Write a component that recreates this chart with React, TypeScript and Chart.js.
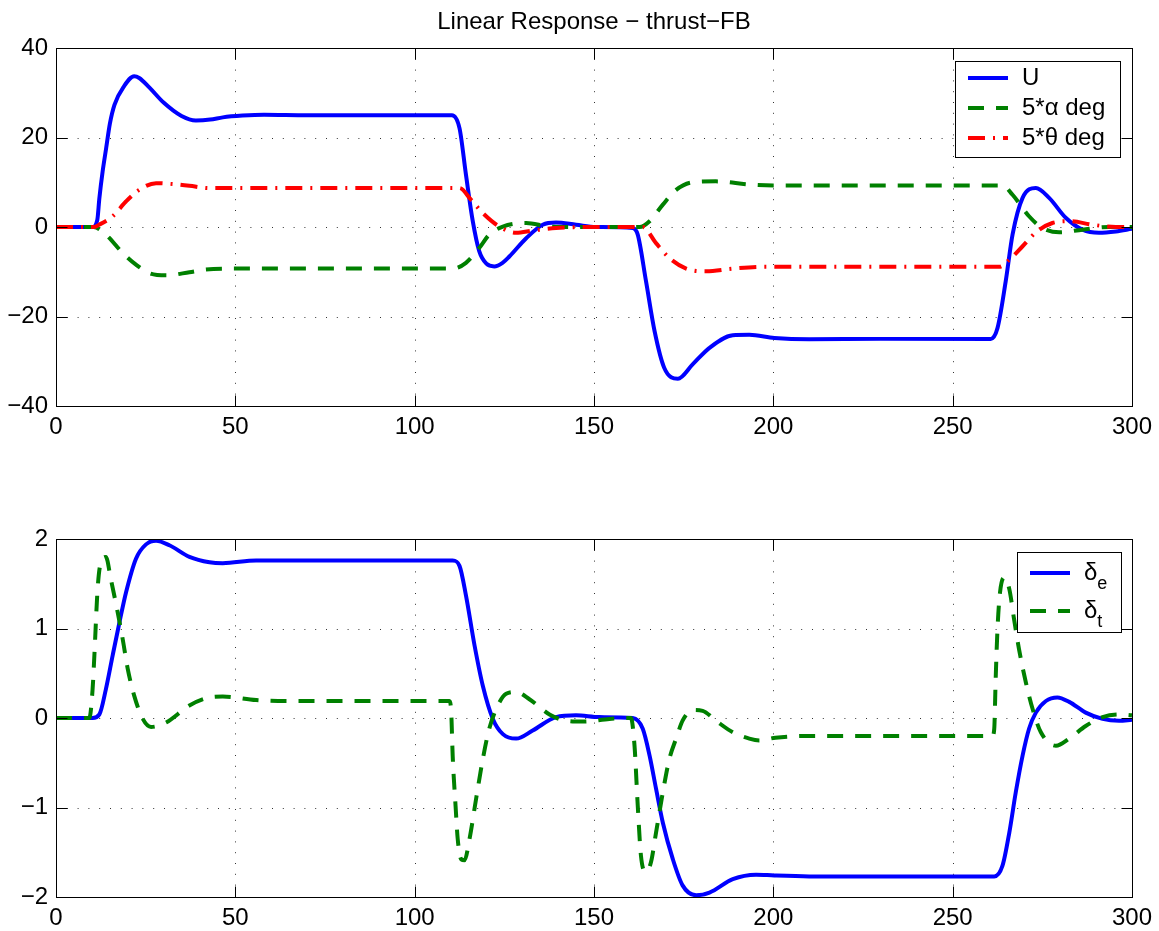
import React, { useEffect, useRef } from "react";
import { Chart, registerables } from "chart.js";

Chart.register(...registerables);

const FONT = '"Liberation Sans", Arial, Helvetica, sans-serif';

// ---- Upper panel: U, 5*alpha, 5*theta ----
const uTime = [0, 10.2, 11.5, 12.1, 13, 14, 15, 16.3, 19, 21.8, 23.2, 26, 30, 35, 39, 43, 46.5, 52, 58, 70, 100, 110.4, 112.5, 114.3, 116.2, 118, 120, 122.2, 124.5, 126.4, 131.1, 135.7, 139.4, 145, 150.6, 160.8, 162.2, 164.5, 166.9, 169.6, 173.4, 177.5, 182.2, 188.7, 193.3, 200.3, 210, 230, 260.6, 262.5, 264.8, 266.7, 269.5, 273.2, 276.9, 281.6, 286.2, 290.8, 295.5, 300];
const uValues = [0, 0, 1.5, 6.5, 12.4, 17.7, 23, 27.3, 31.5, 33.7, 33.3, 31.2, 27.8, 24.8, 23.8, 24.0, 24.5, 24.9, 25.1, 25, 25, 25, 22.1, 11.7, 1.3, -5.4, -8.2, -8.8, -8.0, -6.6, -2.5, 0.5, 1.0, 0.5, 0, -0.2, -1.7, -12.1, -23.3, -31.5, -33.9, -30.7, -27, -24.2, -24.1, -24.8, -25.1, -25, -25, -22.6, -12.1, -1.7, 6.5, 8.7, 6.5, 2.0, -0.6, -1.3, -1.0, -0.4];

const alphaTime = [0, 10.5, 13.9, 18.6, 22.3, 26, 30.7, 37.2, 41.8, 48.3, 110.6, 114.3, 118, 120.8, 124.6, 131.1, 137.6, 145, 162.7, 165.5, 169.2, 172.9, 177.5, 184, 193.3, 200, 263.9, 266.7, 271.3, 275, 279.7, 286.2, 293.6, 300];
const alphaValues = [0, 0, -1.7, -5.8, -8.4, -10.3, -10.8, -10.1, -9.5, -9.3, -9.3, -8.0, -4.7, -1.7, 0.1, 0.9, 0.1, 0, 0, 1.3, 5.0, 8.3, 10.0, 10.2, 9.5, 9.3, 9.3, 7.2, 2.4, -0.2, -1.2, -0.6, 0, 0];

const thetaTime = [0, 10.5, 12, 15.8, 19.5, 23.2, 27.9, 32.5, 37.2, 42.8, 50, 112.5, 115.7, 119, 123.6, 128.3, 132.9, 139.4, 150, 163.6, 167.3, 171, 175.7, 181.3, 188.7, 198, 263, 265.8, 269.5, 273.2, 277.8, 282.5, 289, 295.5, 300];
const thetaValues = [0, 0, 0.5, 2.4, 5.7, 8.3, 9.8, 9.6, 9.2, 8.7, 8.7, 8.7, 6.1, 3.1, 0.1, -1.3, -0.8, -0.2, 0, 0, -3.6, -6.9, -9.3, -9.9, -9.3, -8.9, -8.9, -7.3, -4.3, -1.2, 0.9, 1.3, 0.5, 0, 0];

// ---- Lower panel: elevator and throttle deflections ----
const deTime = [0, 10.2, 12.1, 13.9, 15.8, 17.7, 19.5, 22.3, 25.1, 27.9, 31.6, 37.2, 42.8, 46.5, 55.8, 110.6, 112.5, 114.3, 116.7, 119, 121.8, 124.6, 128.3, 132.9, 139.4, 145, 151.5, 160.8, 163.6, 165.5, 167.3, 169.2, 172, 174.7, 178.5, 182.2, 188.7, 195.2, 200.3, 210, 261.6, 263.9, 265.8, 267.6, 269.5, 271.3, 273.2, 276, 279.2, 282.5, 287.1, 291.8, 296.4, 300];
const deValues = [0, 0, 0.04, 0.32, 0.7, 1.07, 1.4, 1.78, 1.94, 1.98, 1.93, 1.8, 1.74, 1.73, 1.76, 1.76, 1.7, 1.37, 0.81, 0.36, -0.01, -0.18, -0.23, -0.14, 0.01, 0.03, 0.01, 0, -0.12, -0.42, -0.79, -1.17, -1.58, -1.87, -1.98, -1.95, -1.8, -1.75, -1.76, -1.77, -1.77, -1.65, -1.28, -0.83, -0.42, -0.12, 0.06, 0.19, 0.23, 0.18, 0.06, -0.01, -0.03, -0.02];

const dtTime = [0, 9.3, 10.2, 10.7, 11.6, 12.5, 13.9, 15.3, 17.2, 18.6, 20, 21.8, 24.2, 26.5, 30.7, 37.2, 42.8, 46.5, 55.8, 65, 109.7, 110.2, 110.6, 111.4, 112, 113, 113.9, 115.3, 117.1, 119, 120.8, 123.2, 125.5, 128.3, 132, 137.6, 142.2, 146.9, 154.3, 160.3, 161.3, 162.2, 163.1, 164.5, 165.9, 167.3, 169.2, 171, 172.9, 174.7, 177.5, 180.3, 184, 188.7, 193.3, 196.1, 200.6, 210, 261.1, 261.6, 262, 262.5, 263.2, 264.4, 265.8, 267.1, 268.5, 270.4, 272.3, 274.6, 278.8, 282.5, 287.1, 291.8, 296.4, 300];
const dtValues = [0, 0, 0.32, 0.7, 1.44, 1.74, 1.8, 1.55, 1.18, 0.88, 0.55, 0.25, -0.01, -0.1, -0.05, 0.14, 0.23, 0.24, 0.2, 0.19, 0.19, 0.06, -0.42, -0.98, -1.35, -1.58, -1.59, -1.35, -0.91, -0.46, -0.12, 0.14, 0.27, 0.29, 0.21, 0.04, -0.03, -0.04, -0.01, 0, -0.31, -0.98, -1.54, -1.72, -1.61, -1.28, -0.83, -0.46, -0.23, -0.03, 0.09, 0.08, -0.03, -0.16, -0.23, -0.25, -0.22, -0.2, -0.2, -0.12, 0.44, 0.99, 1.4, 1.57, 1.44, 1.11, 0.77, 0.4, 0.1, -0.16, -0.31, -0.23, -0.09, 0.01, 0.04, 0.03];

const xTickStep = 50;
const topYTicks = { min: -40, max: 40, step: 20 };
const bottomYTicks = { min: -2, max: 2, step: 1 };

const BLUE = "#0000ff";
const GREEN = "#008000";
const RED = "#ff0000";
const DASH = [16, 12];
const DASH_DOT = [17, 8, 2, 8];
const TEXT_SIZE = 24;

const pts = (t: number[], v: number[]) => t.map((x, i) => ({ x, y: v[i] }));
const fmt = (v: number | string) => {
  const n = Number(v);
  return n < 0 ? "\u2212" + Math.abs(n) : String(n);
};

type LegendRow = { ds: number; label: string; sub?: string; dy: number };
type PanelOpts = {
  title?: string;
  legend: { x: number; y: number; w: number; h: number; rows: LegendRow[] };
};

// Grid, boxed axes with inward ticks, title and legend drawn the classic way
const panelPlugin = {
  id: "panel",
  beforeDatasetsDraw(chart: any) {
    const { ctx, chartArea: a, scales } = chart;
    ctx.save();
    ctx.strokeStyle = "rgba(0,0,0,0.8)";
    ctx.lineWidth = 1;
    ctx.setLineDash([1, 9.8]);
    scales.x.ticks.forEach((t: any) => {
      const px = Math.round(scales.x.getPixelForValue(t.value)) + 0.5;
      if (px <= a.left + 1 || px >= a.right - 1) return;
      ctx.beginPath();
      ctx.moveTo(px, a.top);
      ctx.lineTo(px, a.bottom);
      ctx.stroke();
    });
    scales.y.ticks.forEach((t: any) => {
      const py = Math.round(scales.y.getPixelForValue(t.value)) + 0.5;
      if (py <= a.top + 1 || py >= a.bottom - 1) return;
      ctx.beginPath();
      ctx.moveTo(a.left, py);
      ctx.lineTo(a.right, py);
      ctx.stroke();
    });
    ctx.restore();
  },
  afterDatasetsDraw(chart: any) {
    const { ctx, chartArea: a, scales } = chart;
    const len = 11;
    ctx.save();
    ctx.strokeStyle = "#000";
    ctx.lineWidth = 1;
    ctx.setLineDash([]);
    const L = Math.round(a.left) + 0.5;
    const R = Math.round(a.right) + 0.5;
    const T = Math.round(a.top) + 0.5;
    const B = Math.round(a.bottom) + 0.5;
    ctx.strokeRect(L, T, R - L, B - T);
    ctx.beginPath();
    scales.x.ticks.forEach((t: any) => {
      const px = Math.round(scales.x.getPixelForValue(t.value)) + 0.5;
      ctx.moveTo(px, B);
      ctx.lineTo(px, B - len);
      ctx.moveTo(px, T);
      ctx.lineTo(px, T + len);
    });
    scales.y.ticks.forEach((t: any) => {
      const py = Math.round(scales.y.getPixelForValue(t.value)) + 0.5;
      ctx.moveTo(L, py);
      ctx.lineTo(L + len, py);
      ctx.moveTo(R, py);
      ctx.lineTo(R - len, py);
    });
    ctx.stroke();
    ctx.restore();
  },
  afterDraw(chart: any, _args: any, opts: PanelOpts) {
    const { ctx, chartArea: a } = chart;
    ctx.save();
    if (opts.title) {
      ctx.fillStyle = "#000";
      ctx.font = `${TEXT_SIZE}px ${FONT}`;
      ctx.textAlign = "center";
      ctx.textBaseline = "middle";
      ctx.fillText(opts.title, (a.left + a.right) / 2, 22);
    }
    const lg = opts.legend;
    if (lg) {
      ctx.fillStyle = "#fff";
      ctx.fillRect(lg.x, lg.y, lg.w, lg.h);
      ctx.strokeStyle = "#000";
      ctx.lineWidth = 1;
      ctx.setLineDash([]);
      ctx.strokeRect(lg.x + 0.5, lg.y + 0.5, lg.w, lg.h);
      lg.rows.forEach((row) => {
        const ds = chart.data.datasets[row.ds];
        const y = lg.y + row.dy;
        ctx.strokeStyle = ds.borderColor;
        ctx.lineWidth = ds.borderWidth;
        ctx.lineCap = "butt";
        ctx.setLineDash(ds.borderDash || []);
        ctx.beginPath();
        ctx.moveTo(lg.x + 13, y);
        ctx.lineTo(lg.x + 53, y);
        ctx.stroke();
        ctx.setLineDash([]);
        ctx.fillStyle = "#000";
        ctx.textAlign = "left";
        ctx.textBaseline = "middle";
        ctx.font = `${TEXT_SIZE}px ${FONT}`;
        const tx = lg.x + 67;
        ctx.fillText(row.label, tx, y);
        if (row.sub) {
          const w = ctx.measureText(row.label).width;
          ctx.font = `18px ${FONT}`;
          ctx.fillText(row.sub, tx + w, y + 11);
        }
      });
    }
    ctx.restore();
  },
};

function makeOptions(
  yr: { min: number; max: number; step: number },
  padTop: number,
  xAxisHeight: number,
  panel: PanelOpts
): any {
  return {
    responsive: false,
    animation: false,
    events: [],
    layout: { padding: { left: 0, top: padTop, right: 27, bottom: 0 } },
    elements: { point: { radius: 0 }, line: { borderCapStyle: "butt", borderJoinStyle: "round" } },
    plugins: {
      legend: { display: false },
      tooltip: { enabled: false },
      title: { display: false },
      panel,
    },
    scales: {
      x: {
        type: "linear",
        min: 0,
        max: 300,
        grid: { display: false, drawTicks: false },
        border: { display: false },
        ticks: {
          stepSize: xTickStep,
          maxRotation: 0,
          autoSkip: false,
          padding: 7,
          color: "#000",
          font: { family: FONT, size: TEXT_SIZE },
          callback: fmt,
        },
        afterFit: (s: any) => {
          s.height = xAxisHeight;
        },
      },
      y: {
        type: "linear",
        min: yr.min,
        max: yr.max,
        grid: { display: false, drawTicks: false },
        border: { display: false },
        ticks: {
          stepSize: yr.step,
          autoSkip: false,
          padding: 8,
          color: "#000",
          font: { family: FONT, size: TEXT_SIZE },
          callback: fmt,
        },
        afterFit: (s: any) => {
          s.width = 56;
        },
      },
    },
  };
}

function lineSet(label: string, t: number[], v: number[], color: string, dash: number[], order: number) {
  return {
    label,
    data: pts(t, v),
    borderColor: color,
    backgroundColor: color,
    borderWidth: 4,
    borderDash: dash,
    fill: false,
    cubicInterpolationMode: "monotone",
    order,
  };
}

export default function App() {
  const topRef = useRef<HTMLCanvasElement>(null);
  const bottomRef = useRef<HTMLCanvasElement>(null);

  useEffect(() => {
    const top = new Chart(topRef.current as HTMLCanvasElement, {
      type: "line",
      data: {
        datasets: [
          lineSet("U", uTime, uValues, BLUE, [], 3),
          lineSet("5*\u03b1 deg", alphaTime, alphaValues, GREEN, DASH, 2),
          lineSet("5*\u03b8 deg", thetaTime, thetaValues, RED, DASH_DOT, 1),
        ],
      },
      options: makeOptions(topYTicks, 48, 64, {
        title: "Linear Response \u2212 thrust\u2212FB",
        legend: {
          x: 955,
          y: 61,
          w: 165,
          h: 96,
          rows: [
            { ds: 0, label: "U", dy: 17 },
            { ds: 1, label: "5*\u03b1 deg", dy: 47 },
            { ds: 2, label: "5*\u03b8 deg", dy: 77 },
          ],
        },
      }),
      plugins: [panelPlugin],
    } as any);

    const bottom = new Chart(bottomRef.current as HTMLCanvasElement, {
      type: "line",
      data: {
        datasets: [
          lineSet("\u03b4e", deTime, deValues, BLUE, [], 2),
          lineSet("\u03b4t", dtTime, dtValues, GREEN, DASH, 1),
        ],
      },
      options: makeOptions(bottomYTicks, 69, 34, {
        legend: {
          x: 1017,
          y: 82,
          w: 104,
          h: 80,
          rows: [
            { ds: 0, label: "\u03b4", sub: "e", dy: 21 },
            { ds: 1, label: "\u03b4", sub: "t", dy: 59 },
          ],
        },
      }),
      plugins: [panelPlugin],
    } as any);

    return () => {
      top.destroy();
      bottom.destroy();
    };
  }, []);

  return (
    <div style={{ position: "absolute", left: 0, top: 0, width: 1159, height: 931, background: "#fff" }}>
      <canvas ref={topRef} width={1159} height={470} style={{ position: "absolute", left: 0, top: 0 }} />
      <canvas ref={bottomRef} width={1159} height={461} style={{ position: "absolute", left: 0, top: 470 }} />
    </div>
  );
}
